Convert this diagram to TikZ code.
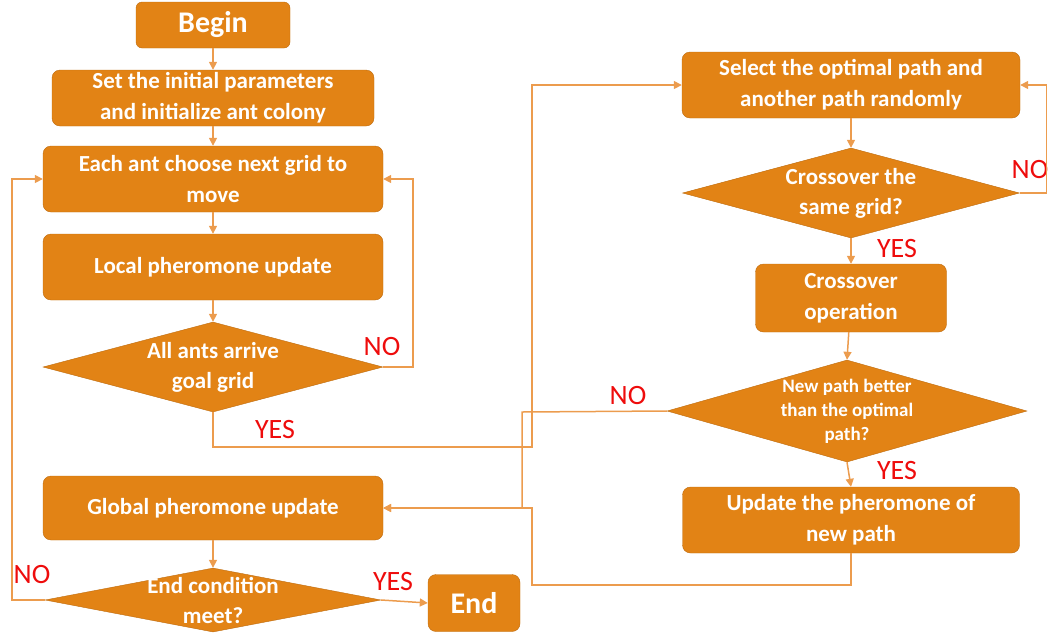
\documentclass[tikz,border=0pt]{standalone}
\usepackage{fontspec}
\setmainfont{Carlito}
\usetikzlibrary{arrows.meta,positioning,shapes.geometric}
\definecolor{antorange}{RGB}{226,131,21}
\definecolor{antedge}{RGB}{190,108,16}
\definecolor{antline}{RGB}{236,156,78}
\definecolor{antred}{RGB}{238,12,12}
\tikzset{
  >={Triangle[length=8pt,width=8pt]},
  proc/.style={fill=antorange,draw=antedge,rounded corners=8pt,text=white,
    align=center,font=\fontsize{23}{31}\selectfont\bfseries,
    minimum width=340pt,minimum height=66pt,inner sep=2pt},
  test/.style={diamond,fill=antorange,draw=antedge,inner sep=0pt},
  dtext/.style={text=white,align=center,font=\fontsize{23}{30}\selectfont\bfseries},
  flow/.style={->,line width=1.5pt,draw=antline},
  link/.style={line width=1.5pt,draw=antline},
  answer/.style={text=antred,font=\fontsize{28}{30}\selectfont},
}
\begin{document}
\begin{tikzpicture}[x=1pt,y=-1pt]
  \useasboundingbox (0,0) rectangle (1052,638);
  % left column
  \node[proc,minimum width=154pt,minimum height=46pt,rounded corners=6pt,
    font=\fontsize{30}{32}\selectfont\bfseries] (begin) at (213,25) {Begin};
  \node[proc,minimum width=322pt,minimum height=56pt] (init) at (213,98)
    {Set the initial parameters\\and initialize ant colony};
  \node[proc] (choose) at (213,179) {Each ant choose next grid to\\move};
  \node[proc] (local) at (213,267) {Local pheromone update};
  \node[test,minimum width=340pt,minimum height=90pt,
    label={[dtext]center:{All ants arrive\\goal grid}}] (arrive) at (213,367) {};
  \node[proc,minimum height=64pt] (global) at (213,508) {Global pheromone update};
  \node[test,minimum width=336pt,minimum height=64pt,
    label={[dtext]center:{End condition\\meet?}}] (stop) at (213,600) {};
  \node[proc,minimum width=92pt,minimum height=57pt,
    font=\fontsize{30}{32}\selectfont\bfseries] (end) at (474,603) {End};
  % right column
  \node[proc,minimum width=338pt] (select) at (851,85)
    {Select the optimal path and\\another path randomly};
  \node[test,minimum width=337pt,minimum height=90pt,
    label={[dtext]center:{Crossover the\\same grid?}}] (cross) at (851,193) {};
  \node[proc,minimum width=191pt,minimum height=68pt] (crossop) at (851,298)
    {Crossover\\operation};
  \node[test,minimum width=360pt,minimum height=102pt,
    label={[dtext,font=\fontsize{19}{24}\selectfont\bfseries]center:{New path better\\than the optimal\\path?}}] (better) at (847,411) {};
  \node[proc,minimum width=337pt] (update) at (851,520)
    {Update the pheromone of\\new path};
  % answers
  \node[answer] (arriveno) at (382,347) {NO};
  \node[answer] (arriveyes) at (275,430) {YES};
  \node[answer] (crossno) at (1030,170) {NO};
  \node[answer] (crossyes) at (897,249) {YES};
  \node[answer] (betterno) at (628,396) {NO};
  \node[answer] (betteryes) at (897,471) {YES};
  \node[answer] (stopno) at (32,574) {NO};
  \node[answer] (stopyes) at (393,581) {YES};
  % turning points
  \coordinate (yesturn) at (532,447);
  \coordinate (noturn) at (522,412);
  \coordinate (backturn) at (532,585);
  \coordinate (merge) at (532,508);
  % connectors
  \draw[flow] (begin) -- (init);
  \draw[flow] (init) -- (choose);
  \draw[flow] (choose) -- (local);
  \draw[flow] (local) -- (arrive);
  \draw[flow] (arrive.east) -- ++(30,0) |- (choose.east);
  \draw[flow] (arrive.south) |- (yesturn) |- (select.west);
  \draw[flow] (select) -- (cross);
  \draw[flow] (cross.east) -- ++(27,0) |- (select.east);
  \draw[flow] (cross.south) -- (crossop.north);
  \draw[flow] (crossop) -- (better.north);
  \draw[flow] (better.south) -- (update.north);
  \draw[flow] (better.west) -- (noturn) |- (global.east);
  \draw[flow] (update.south) |- (backturn) -- (merge) -- (global.east);
  \draw[flow] (global) -- (stop.north);
  \draw[flow] (stop.east) -- (end.west);
  \draw[flow] (stop.west) -- ++(-33,0) |- (choose.west);
\end{tikzpicture}
\end{document}
